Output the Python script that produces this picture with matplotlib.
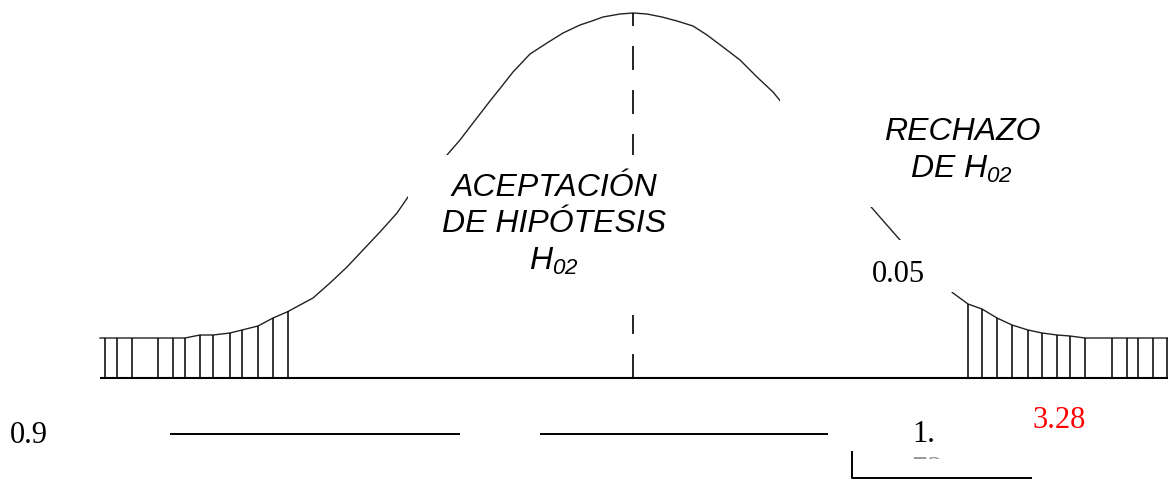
import numpy as np
import matplotlib.pyplot as plt
import matplotlib.patches as mpatches

plt.rcParams['mathtext.fontset'] = 'custom'
plt.rcParams['mathtext.it'] = 'Liberation Sans:italic'
plt.rcParams['mathtext.rm'] = 'Liberation Sans:italic'

# Curve (pixel coords, y grows downwards)
curve_x = [100, 185, 200, 213, 230, 242, 258, 273, 287, 300, 313, 330, 347, 363,
           380, 397, 408, 447, 460, 473, 490, 502, 513, 530, 547, 563, 580, 592,
           603, 620, 633, 647, 662, 677, 693, 707, 723, 740, 757, 773, 782,
           872, 900, 953, 968, 982, 997, 1012, 1028, 1042, 1057, 1070, 1085, 1168]
curve_y = [338, 338, 335, 335, 333, 330, 326, 318, 312, 305, 298, 283, 267, 250,
           232, 213, 197, 155, 140, 123, 101, 86, 72, 54, 43, 33, 25, 21,
           17, 14, 13, 14, 17, 21, 26, 35, 47, 60, 77, 92, 103,
           208, 240, 293, 304, 309, 318, 325, 330, 333, 335, 336, 338, 338]

# Hatching of the two tails
left_hatch_x = [105, 117, 132, 158, 173, 185, 200, 213, 230, 242, 258, 273, 288]
left_hatch_top = [338, 338, 338, 338, 338, 338, 335, 335, 333, 330, 326, 318, 311]
right_hatch_x = [968, 982, 997, 1012, 1028, 1042, 1057, 1070, 1085, 1112, 1127,
                 1138, 1153, 1167]
right_hatch_top = [304, 309, 318, 325, 330, 333, 335, 336, 338, 338, 338, 338,
                   338, 338]

baseline_y = 378
mean_x = 633
peak_y = 13

# Labels
label_accept = ["ACEPTACIÓN", "DE HIPÓTESIS", r"$H_{02}$"]
label_reject = ["RECHAZO", r"DE $H_{02}$"]
alpha_txt = "0.05"
left_txt = "0.9"
crit_txt = "1."
crit_txt2 = "72"
red_txt = "3.28"

fig = plt.figure(figsize=(11.68, 4.79), dpi=100)
ax = fig.add_axes([0, 0, 1, 1])
ax.set_xlim(0, 1168)
ax.set_ylim(479, 0)
ax.axis('off')

ax.plot(curve_x, curve_y, color='#222222', lw=1.0, zorder=2)
ax.vlines(left_hatch_x, left_hatch_top, baseline_y, color='black', lw=1.1, zorder=2)
ax.vlines(right_hatch_x, right_hatch_top, baseline_y, color='black', lw=1.1, zorder=2)
ax.hlines(baseline_y, 100, 1168, color='black', lw=1.5, zorder=2)
# dashed mean line, drawn from the base upwards so a dash sits on the axis
ax.plot([mean_x, mean_x], [baseline_y, peak_y], color='black', lw=1.2,
        linestyle=(0, (14.4, 12)), zorder=2)

# White text boxes that hide parts of the curve
for x0, y0, w, h in [(408, 155, 297, 160), (780, 100, 280, 107), (865, 240, 90, 52)]:
    ax.add_patch(mpatches.Rectangle((x0, y0), w, h, facecolor='white',
                                    edgecolor='none', zorder=3))

sans = dict(family='Liberation Sans', style='italic', fontsize=23, zorder=4,
            ha='center', va='baseline')
for txt, yb in zip(label_accept, [196, 232, 270]):
    ax.text(554, yb, txt, **sans)
for txt, yb in zip(label_reject, [140, 178]):
    ax.text(962, yb, txt, **sans)

serif = dict(family='Liberation Serif', fontsize=22, zorder=4, va='baseline')
ax.text(872, 282, alpha_txt, **serif)
ax.text(10, 443, left_txt, **serif)
ax.text(912, 442, crit_txt, **serif)
ax.text(1032, 428, red_txt, color='red', **serif)
# second line of the "1.72" box is cut off, only its top shows
t = ax.text(912, 478, crit_txt2, color='#999999', clip_on=True, **serif)
t.set_clip_path(mpatches.Rectangle((900, 455), 40, 4, transform=ax.transData))

# Lines under the axis
ax.hlines([434, 434], [170, 540], [460, 828], color='black', lw=1.4)
ax.plot([852, 852, 1031], [452, 478, 478], color='black', lw=1.4)

plt.savefig("out.png", dpi=100)
